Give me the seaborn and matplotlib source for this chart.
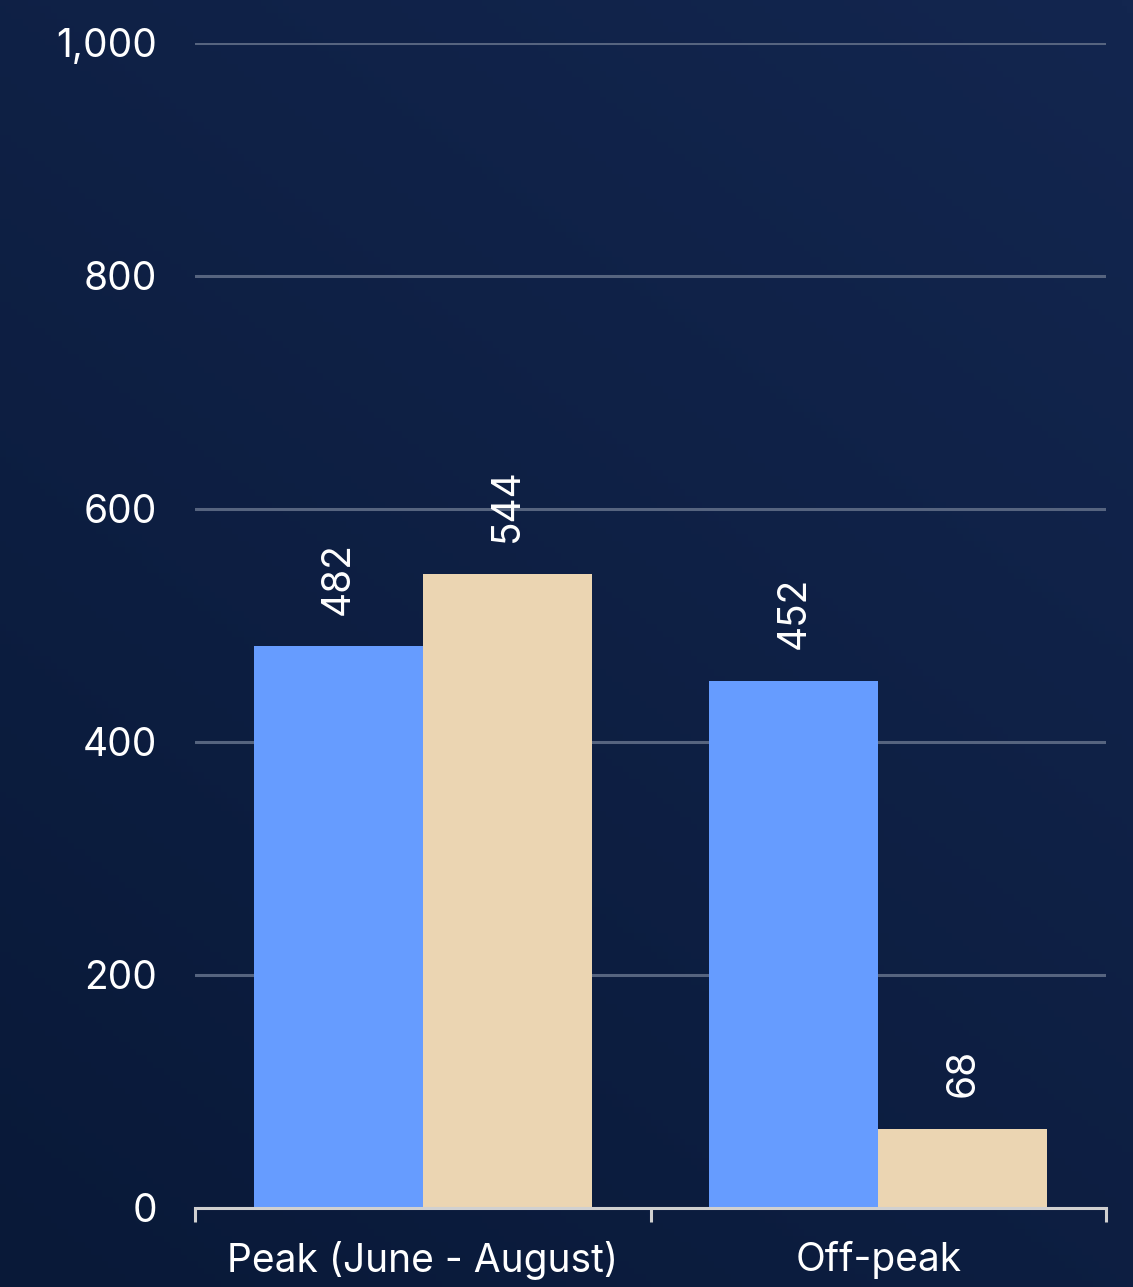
import numpy as np
import pandas as pd
import matplotlib
matplotlib.use("Agg")
import matplotlib.pyplot as plt
import seaborn as sns
from matplotlib.colors import LinearSegmentedColormap
from matplotlib.ticker import FuncFormatter

categories = ["Peak (June - August)", "Off-peak"]
series_names = ["Series 1", "Series 2"]
series1 = [482, 452]
series2 = [544, 68]
colors = ["#669CFF", "#EBD5B2"]

df = pd.DataFrame({
    "category": categories * 2,
    "series": [series_names[0]] * 2 + [series_names[1]] * 2,
    "value": series1 + series2,
})

sns.set_theme(style="dark")
plt.rcParams["font.family"] = ["Inter", "DejaVu Sans"]

fig = plt.figure(figsize=(11.33, 12.87), dpi=100)

# background gradient: lighter top-right, darker bottom-left
bg = fig.add_axes([0, 0, 1, 1], zorder=-10)
bg.axis("off")
yy, xx = np.mgrid[0:1:200j, 0:1:200j]
grad = 0.6 * yy + 0.4 * xx
cmap = LinearSegmentedColormap.from_list("bgc", ["#091938", "#13264F"])
bg.imshow(grad, cmap=cmap, aspect="auto", extent=[0, 1, 0, 1], origin="lower")

ax = fig.add_axes([0.1721, 0.0614, 0.8041, 0.9052])
ax.set_facecolor("none")
sns.barplot(data=df, x="category", y="value", hue="series", order=categories,
            hue_order=series_names, palette=colors, width=0.742, gap=0,
            saturation=1, ax=ax, legend=False, zorder=3, linewidth=0, edgecolor="none")

for cont in ax.containers:
    ax.bar_label(cont, labels=[f"{int(v.get_height())}" for v in cont],
                 rotation=90, padding=23, color="white", fontsize=28)

ax.set_ylim(0, 1000)
ax.set_xlim(-0.5, 1.5)
ax.set_yticks([0, 200, 400, 600, 800, 1000])
ax.yaxis.set_major_formatter(FuncFormatter(lambda v, p: f"{int(v):,}"))
ax.grid(axis="y", color="#56647F", linewidth=2.2, zorder=0)
ax.grid(axis="x", visible=False)
ax.set_axisbelow(True)
ax.set_xlabel("")
ax.set_ylabel("")

ax.set_xticks([-0.5, 0.5, 1.5])
ax.set_xticklabels(["", "", ""])
ax.set_xticks([0, 1], minor=True)
ax.set_xticklabels(categories, minor=True)
ax.tick_params(axis="x", which="major", length=10, width=2.2, color="#D0D0D0", bottom=True)
ax.tick_params(axis="x", which="minor", length=0, pad=24, labelsize=28, labelcolor="white")
ax.tick_params(axis="y", length=0, pad=27, labelsize=28, labelcolor="white")

for s in ["top", "right", "left"]:
    ax.spines[s].set_visible(False)
ax.spines["bottom"].set_visible(True)
ax.spines["bottom"].set_color("#D0D0D0")
ax.spines["bottom"].set_linewidth(2.2)
ax.spines["bottom"].set_zorder(5)

fig.savefig("out.png", dpi=100)
